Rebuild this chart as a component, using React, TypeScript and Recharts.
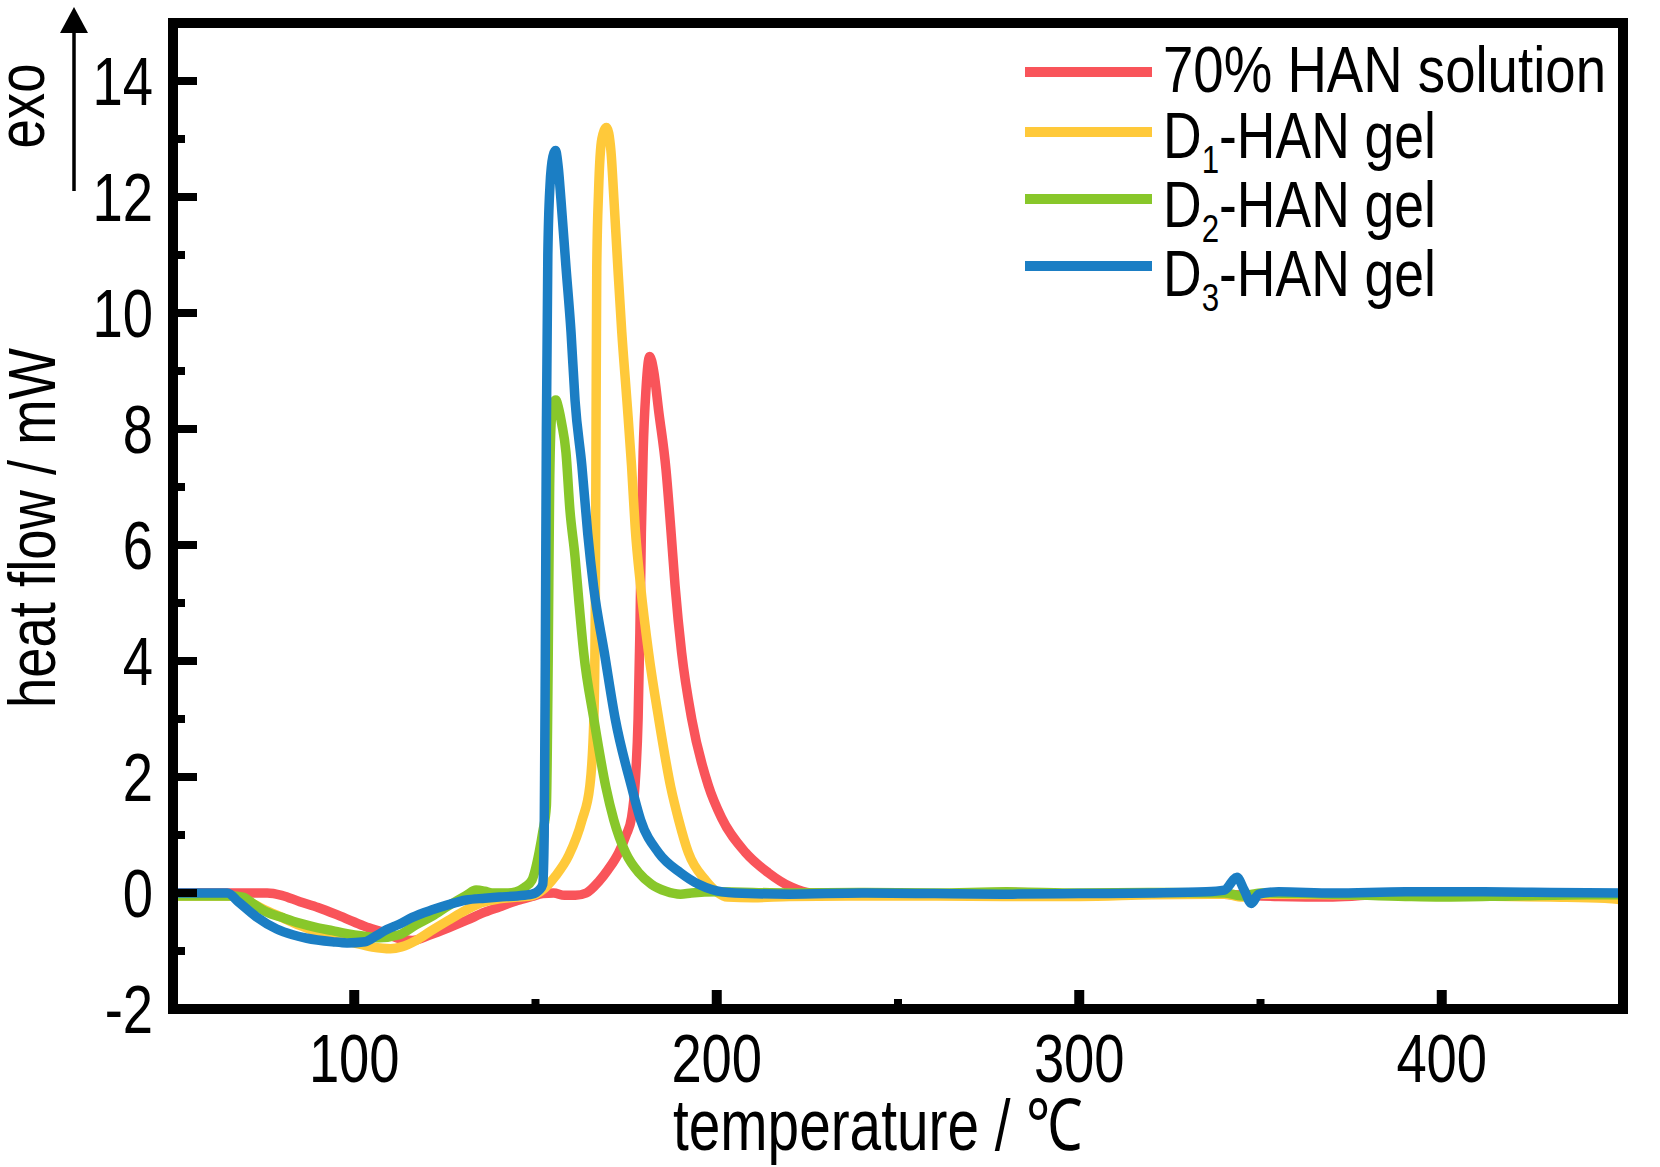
import { LineChart, Line, XAxis, YAxis, Legend, Customized } from 'recharts'

const FONT = '"Liberation Sans", Arial, Helvetica, sans-serif'

const seriesNames = ['70% HAN solution', 'D1-HAN gel', 'D2-HAN gel', 'D3-HAN gel']
const seriesColors = ['#F9545A', '#FFC93A', '#88C72A', '#1B7EC4']

const xTicks = [100, 150, 200, 250, 300, 350, 400]
const yTicks = [-2, -1, 0, 1, 2, 3, 4, 5, 6, 7, 8, 9, 10, 11, 12, 13, 14]
const xTitle = 'temperature / ℃'
const yTitle = 'heat flow / mW'
const exoText = 'exo'

// 70% HAN solution
const hanT = [50, 60, 70, 76, 80, 85, 90, 95, 100, 104, 108, 112, 116, 121, 126, 131, 136, 140, 145, 149, 152, 155, 158, 161, 164, 167.5, 170, 173, 175, 176.5, 177.5, 178.3, 178.8, 179.2, 179.7, 180.5, 181.5, 182.6, 184, 186, 187.3, 188.5, 190.3, 193.1, 197.7, 201.3, 207.9, 214.2, 220.6, 226, 240, 260, 280, 300, 320, 340, 355, 370, 385, 400, 420, 440, 450]
const hanQ = [0, 0, 0, 0, -0.04, -0.15, -0.25, -0.37, -0.5, -0.6, -0.68, -0.78, -0.82, -0.72, -0.6, -0.47, -0.33, -0.24, -0.13, -0.06, -0.01, 0.0, -0.04, -0.04, 0.0, 0.2, 0.4, 0.7, 1.0, 1.3, 1.9, 3.0, 4.5, 6.2, 7.6, 8.7, 9.25, 9.0, 8.3, 7.3, 6.3, 5.3, 4.15, 3.0, 1.85, 1.3, 0.7, 0.35, 0.1, 0.0, 0.0, -0.03, 0.01, -0.02, 0.0, -0.02, -0.06, -0.07, -0.02, -0.03, -0.05, -0.03, -0.04]

// D1-HAN gel
const d1T = [50, 60, 66, 70, 75, 80, 85, 90, 95, 100, 105, 110, 113, 117, 121, 126, 131, 135, 140, 145, 149, 151.5, 155.6, 159.2, 162.8, 165, 166.1, 166.5, 166.7, 166.9, 167.4, 168.3, 169.6, 170.8, 171.6, 172.7, 173.8, 175.2, 176.5, 177.5, 179, 181.2, 184, 187.3, 189.5, 192.2, 196.9, 200, 203, 210, 220, 240, 260, 280, 300, 320, 340, 345, 350, 370, 390, 410, 430, 445, 450]
const d1Q = [-0.05, -0.05, -0.05, -0.12, -0.28, -0.42, -0.56, -0.68, -0.78, -0.86, -0.93, -0.96, -0.93, -0.82, -0.66, -0.47, -0.29, -0.17, -0.1, -0.07, -0.05, 0.03, 0.3, 0.65, 1.25, 1.85, 3.0, 5.0, 8.0, 10.8, 12.1, 13.0, 13.2, 12.8, 12.0, 10.8, 9.67, 8.5, 7.36, 6.3, 5.29, 4.14, 3.0, 1.83, 1.26, 0.69, 0.22, 0.02, -0.07, -0.08, -0.06, -0.05, -0.05, -0.06, -0.06, -0.03, -0.02, -0.07, -0.02, -0.03, -0.04, -0.05, -0.07, -0.09, -0.12]

// D2-HAN gel
const d2T = [50, 60, 66, 69.3, 72, 75.9, 80, 84.9, 90, 94, 98, 102.3, 107, 112.4, 117, 121.5, 126, 130.9, 133.6, 136, 138, 142, 144.6, 147, 149, 151, 152, 153, 153.5, 153.9, 154.4, 155, 155.6, 156.4, 157.2, 158.4, 159.5, 160.9, 162, 163.3, 166.1, 169.4, 171.6, 174.9, 178.5, 182, 186, 190, 193, 200, 220, 240, 260, 280, 300, 320, 340, 345, 350, 370, 390, 400, 420, 440, 450]
const d2Q = [-0.05, -0.05, -0.05, -0.07, -0.18, -0.33, -0.42, -0.52, -0.6, -0.65, -0.7, -0.74, -0.77, -0.72, -0.55, -0.4, -0.22, -0.04, 0.05, 0.03, 0.0, 0.0, 0.02, 0.1, 0.22, 0.7, 1.05, 1.5, 4.0, 7.0, 8.2, 8.45, 8.5, 8.35, 8.1, 7.6, 6.6, 5.8, 5.0, 4.14, 3.0, 1.83, 1.26, 0.69, 0.35, 0.15, 0.03, -0.02, 0.0, 0.02, 0.0, 0.01, 0.0, 0.02, 0.0, 0.01, 0.0, -0.05, 0.0, -0.02, -0.06, -0.07, -0.05, -0.03, -0.03]

// D3-HAN gel
const d3T = [50, 60, 65, 68, 73, 78.6, 83, 86.9, 94, 98, 103, 106, 109, 112.4, 116, 121.5, 126, 130.9, 136, 140, 145, 149, 151, 152, 152.4, 152.7, 153, 153.4, 154, 154.8, 155.5, 156.3, 157, 158.4, 159.8, 160.9, 162.8, 164.4, 166, 169, 172, 176.5, 179, 184, 190, 195, 198.6, 205, 220, 240, 260, 280, 300, 320, 335, 340, 343.5, 345.5, 347.5, 349.5, 355, 370, 390, 410, 430, 450]
const d3Q = [0, 0, 0, -0.15, -0.41, -0.62, -0.72, -0.78, -0.84, -0.86, -0.84, -0.74, -0.63, -0.54, -0.42, -0.29, -0.2, -0.12, -0.09, -0.07, -0.05, -0.02, 0.05, 0.15, 1.0, 4.0, 8.0, 11.0, 12.2, 12.7, 12.8, 12.5, 11.97, 10.8, 9.67, 8.5, 7.36, 6.2, 5.29, 4.14, 3.0, 1.83, 1.26, 0.69, 0.35, 0.15, 0.06, 0.0, -0.02, 0.0, -0.01, -0.02, -0.01, 0.0, 0.02, 0.05, 0.27, 0.05, -0.18, -0.02, 0.02, 0.0, 0.02, 0.02, 0.01, 0.0]

const toRows = (t: number[], q: number[]) => t.map((v, i) => ({ t: v, q: q[i] }))
const series = [
  toRows(hanT, hanQ),
  toRows(d1T, d1Q),
  toRows(d2T, d2Q),
  toRows(d3T, d3Q),
]

const frame = { stroke: '#000', strokeWidth: 10, strokeLinecap: 'square' as const }

function XTick(props: any) {
  const { x, y, payload } = props
  const major = payload.value % 100 === 0
  return (
    <g>
      <line x1={x} x2={x} y1={y} y2={y - (major ? 19 : 10)} stroke="#000" strokeWidth={major ? 10 : 8} />
      {major && (
        <text
          transform={`translate(${x},${y + 73}) scale(0.8,1)`}
          textAnchor="middle"
          fontSize={68}
          fontFamily={FONT}
          fill="#000"
        >
          {payload.value}
        </text>
      )}
    </g>
  )
}

function YTick(props: any) {
  const { x, y, payload } = props
  const major = payload.value % 2 === 0
  return (
    <g>
      <line x1={x} x2={x + (major ? 24 : 12)} y1={y} y2={y} stroke="#000" strokeWidth={8} />
      {major && (
        <text
          transform={`translate(${x - 20},${y + 24}) scale(0.8,1)`}
          textAnchor="end"
          fontSize={68}
          fontFamily={FONT}
          fill="#000"
        >
          {payload.value}
        </text>
      )}
    </g>
  )
}

// legend rows, in the legend box's own coordinates
const legendLineY = [72, 132, 199, 266]
const legendBaseY = [92, 158, 227, 296]
const legendWidths = [443, 273, 273, 273]

function LegendBox(props: any) {
  const payload = props.payload || []
  return (
    <svg width={660} height={340} style={{ display: 'block' }}>
      {payload.map((entry: any, i: number) => {
        const idx = seriesNames.indexOf(entry.value)
        const k = idx < 0 ? i : idx
        const name = seriesNames[k]
        const m = name.match(/^D(\d)(.*)$/)
        return (
          <g key={name}>
            <line x1={25} x2={152} y1={legendLineY[k]} y2={legendLineY[k]} stroke={seriesColors[k]} strokeWidth={10} />
            <text
              x={163}
              y={legendBaseY[k]}
              fontSize={65}
              fontFamily={FONT}
              fill="#000"
              textLength={legendWidths[k]}
              lengthAdjust="spacingAndGlyphs"
            >
              {m ? (
                <>
                  <tspan>D</tspan>
                  <tspan dy={15} fontSize={38}>{m[1]}</tspan>
                  <tspan dy={-15}>{m[2]}</tspan>
                </>
              ) : (
                name
              )}
            </text>
          </g>
        )
      })}
    </svg>
  )
}

function Annotations() {
  return (
    <g fontFamily={FONT} fill="#000">
      <text
        transform="translate(55,528) rotate(-90)"
        textAnchor="middle"
        fontSize={67}
        textLength={360}
        lengthAdjust="spacingAndGlyphs"
      >
        {yTitle}
      </text>
      <text
        transform="translate(878,1150)"
        textAnchor="middle"
        fontSize={72}
        textLength={410}
        lengthAdjust="spacingAndGlyphs"
      >
        {xTitle}
      </text>
      <text
        transform="translate(44,106) rotate(-90)"
        textAnchor="middle"
        fontSize={66}
        textLength={85}
        lengthAdjust="spacingAndGlyphs"
      >
        {exoText}
      </text>
      <line x1={74} x2={74} y1={191} y2={28} stroke="#000" strokeWidth={3.5} />
      <polygon points="74,7 60,33 88,33" fill="#000" />
    </g>
  )
}

export default function App() {
  return (
    <div style={{ position: 'absolute', left: 0, top: 0, width: 1660, height: 1167, background: '#fff' }}>
      <LineChart width={1660} height={1167} margin={{ top: 22, right: 36, bottom: 157, left: 172 }}>
        <XAxis
          dataKey="t"
          type="number"
          domain={[50, 450]}
          ticks={xTicks}
          interval={0}
          height={1}
          tickSize={0}
          tickMargin={0}
          allowDataOverflow
          axisLine={frame}
          tickLine={false}
          tick={(p: any) => <XTick {...p} />}
        />
        <XAxis
          xAxisId="top"
          orientation="top"
          type="number"
          domain={[50, 450]}
          ticks={[50, 450]}
          height={1}
          tickSize={0}
          tick={false}
          tickLine={false}
          axisLine={frame}
        />
        <YAxis
          type="number"
          domain={[-2, 15]}
          ticks={yTicks}
          interval={0}
          width={1}
          tickSize={0}
          tickMargin={0}
          allowDataOverflow
          axisLine={frame}
          tickLine={false}
          tick={(p: any) => <YTick {...p} />}
        />
        <YAxis
          yAxisId="right"
          orientation="right"
          type="number"
          domain={[-2, 15]}
          ticks={[-2, 15]}
          width={1}
          tickSize={0}
          tick={false}
          tickLine={false}
          axisLine={frame}
        />
        {series.map((rows, i) => (
          <Line
            key={seriesNames[i]}
            data={rows}
            dataKey="q"
            name={seriesNames[i]}
            type="monotone"
            stroke={seriesColors[i]}
            strokeWidth={9.5}
            strokeLinejoin="round"
            dot={false}
            activeDot={false}
            isAnimationActive={false}
          />
        ))}
        <Legend
          layout="vertical"
          align="center"
          verticalAlign="middle"
          wrapperStyle={{ position: 'absolute', left: 1000, top: 0, width: 660, height: 340 }}
          content={(p: any) => <LegendBox {...p} />}
        />
        <Customized component={<Annotations />} />
      </LineChart>
    </div>
  )
}
